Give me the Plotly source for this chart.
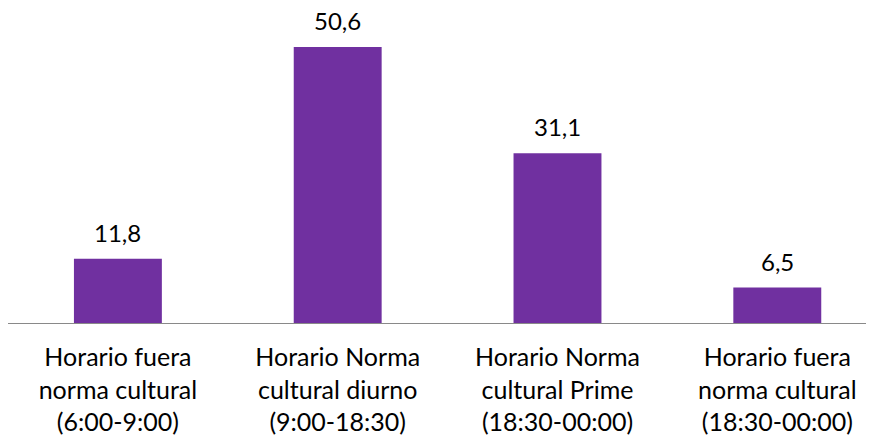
import plotly.graph_objects as go

categories = [
    "Horario fuera<br>norma cultural<br>(6:00-9:00)",
    "Horario Norma<br>cultural diurno<br>(9:00-18:30)",
    "Horario Norma<br>cultural Prime<br>(18:30-00:00)",
    "Horario fuera<br>norma cultural<br>(18:30-00:00)",
]
values = [11.8, 50.6, 31.1, 6.5]
value_labels = ["11,8", "50,6", "31,1", "6,5"]

FONT = "Lato"
xs = list(range(len(categories)))

fig = go.Figure(
    go.Bar(
        x=xs,
        y=values,
        marker=dict(color="#7030A0", line=dict(width=0)),
        cliponaxis=False,
    )
)

for x, v, lab in zip(xs, values, value_labels):
    fig.add_annotation(
        x=x, y=v, text=lab, showarrow=False,
        yanchor="bottom", yshift=10,
        font=dict(family=FONT, size=24, color="#000000"),
    )

fig.update_layout(
    width=874,
    height=438,
    margin=dict(l=0, r=8, t=15, b=123, autoexpand=False),
    paper_bgcolor="white",
    plot_bgcolor="white",
    bargap=0.6,
    showlegend=False,
    font=dict(family=FONT, size=24, color="#000000"),
)
fig.update_xaxes(
    range=[-0.5, 3.44],
    tickmode="array",
    tickvals=xs,
    ticktext=categories,
    showline=True,
    linecolor="#898989",
    linewidth=1,
    ticks="",
    showgrid=False,
    zeroline=False,
    automargin=False,
    ticklabelstandoff=12,
    tickfont=dict(family=FONT, size=25, color="#000000"),
)
fig.update_yaxes(
    range=[0, 55],
    visible=False,
    showgrid=False,
    zeroline=False,
    automargin=False,
)

fig.write_html("out.html")
